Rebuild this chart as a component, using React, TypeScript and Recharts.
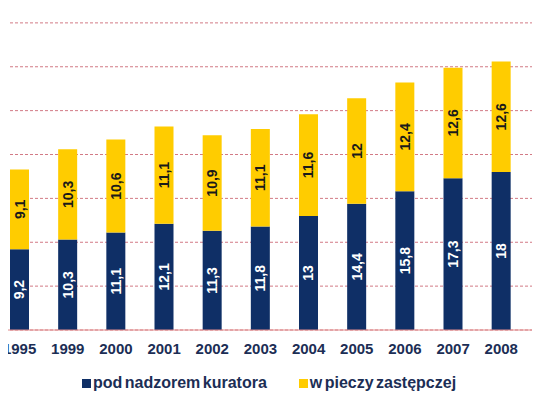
import React from 'react';
import { BarChart, Bar, XAxis, YAxis, CartesianGrid, Legend, LabelList } from 'recharts';

const years = ['1995', '1999', '2000', '2001', '2002', '2003', '2004', '2005', '2006', '2007', '2008', '2009'];
const kurator = [9.2, 10.3, 11.1, 12.1, 11.3, 11.8, 13, 14.4, 15.8, 17.3, 18, 19.1];
const piecza = [9.1, 10.3, 10.6, 11.1, 10.9, 11.1, 11.6, 12, 12.4, 12.6, 12.6, 12.8];
const yTicks = [0, 5, 10, 15, 20, 25, 30, 35, 40];

const data = years.map((y, i) => ({ year: y, kurator: kurator[i], piecza: piecza[i] }));

const NAVY = '#0f2f66';
const YELLOW = '#ffcc00';
const FONT = '"Liberation Sans", Arial, sans-serif';

const fmt = (v: number) => String(v).replace('.', ',');

const makeLabel = (color: string) => (props: any) => {
  const { x, y, width, height, value } = props;
  const cx = x + width / 2;
  const cy = y + height / 2;
  return (
    <text
      x={cx}
      y={cy}
      fill={color}
      fontFamily={FONT}
      fontWeight="bold"
      fontSize={14}
      textAnchor="middle"
      dominantBaseline="central"
      transform={`rotate(-90, ${cx}, ${cy})`}
    >
      {fmt(value)}
    </text>
  );
};

const LegendContent = (props: any) => {
  const payload = props.payload || [];
  return (
    <div style={{ display: 'flex', alignItems: 'center', fontFamily: FONT, fontWeight: 'bold', fontSize: 16, color: '#1c2e55', wordSpacing: -2 }}>
      {payload.map((p: any, i: number) => (
        <div key={i} style={{ display: 'flex', alignItems: 'center', marginRight: 32 }}>
          <span style={{ display: 'inline-block', width: 9, height: 9, background: p.color, marginRight: 2 }} />
          <span>{p.value}</span>
        </div>
      ))}
    </div>
  );
};

export default function App() {
  return (
    <div style={{ position: 'relative', width: 540, height: 407, overflow: 'hidden', margin: -8, background: '#fff' }}>
      <div style={{ position: 'absolute', left: -5.5, top: -21 }}>
        <BarChart width={578} height={428} data={data} margin={{ top: 0, right: 0, left: 0, bottom: 47 }}>
          <CartesianGrid vertical={false} stroke="#d27a85" strokeDasharray="3 2" />
          <XAxis
            dataKey="year"
            axisLine={{ stroke: '#e08a8a', strokeWidth: 1 }}
            tickLine={false}
            tickMargin={7}
            height={30}
            interval={0}
            tick={{ fill: '#1c2e55', fontFamily: FONT, fontWeight: 'bold', fontSize: 15, dx: 0.5 }}
          />
          <YAxis hide domain={[0, 40]} ticks={yTicks} />
          <Legend
            verticalAlign="middle"
            align="center"
            content={LegendContent}
            wrapperStyle={{ top: 395, left: 87.5, width: 460 }}
          />
          <Bar dataKey="kurator" name="pod nadzorem kuratora" stackId="a" fill={NAVY} barSize={19} isAnimationActive={false}>
            <LabelList dataKey="kurator" content={makeLabel('#ffffff')} />
          </Bar>
          <Bar dataKey="piecza" name="w pieczy zastępczej" stackId="a" fill={YELLOW} barSize={19} isAnimationActive={false}>
            <LabelList dataKey="piecza" content={makeLabel('#1a1a1a')} />
          </Bar>
        </BarChart>
      </div>
      <div style={{ position: 'absolute', left: 0, top: 0, width: 540, height: 3, background: '#e4e4e4' }} />
      <div style={{ position: 'absolute', left: 0, top: 401, width: 540, height: 1, background: '#d4d4d4' }} />
      <div style={{ position: 'absolute', left: 0, top: 402, width: 540, height: 5, background: '#f0f0f0' }} />
    </div>
  );
}
